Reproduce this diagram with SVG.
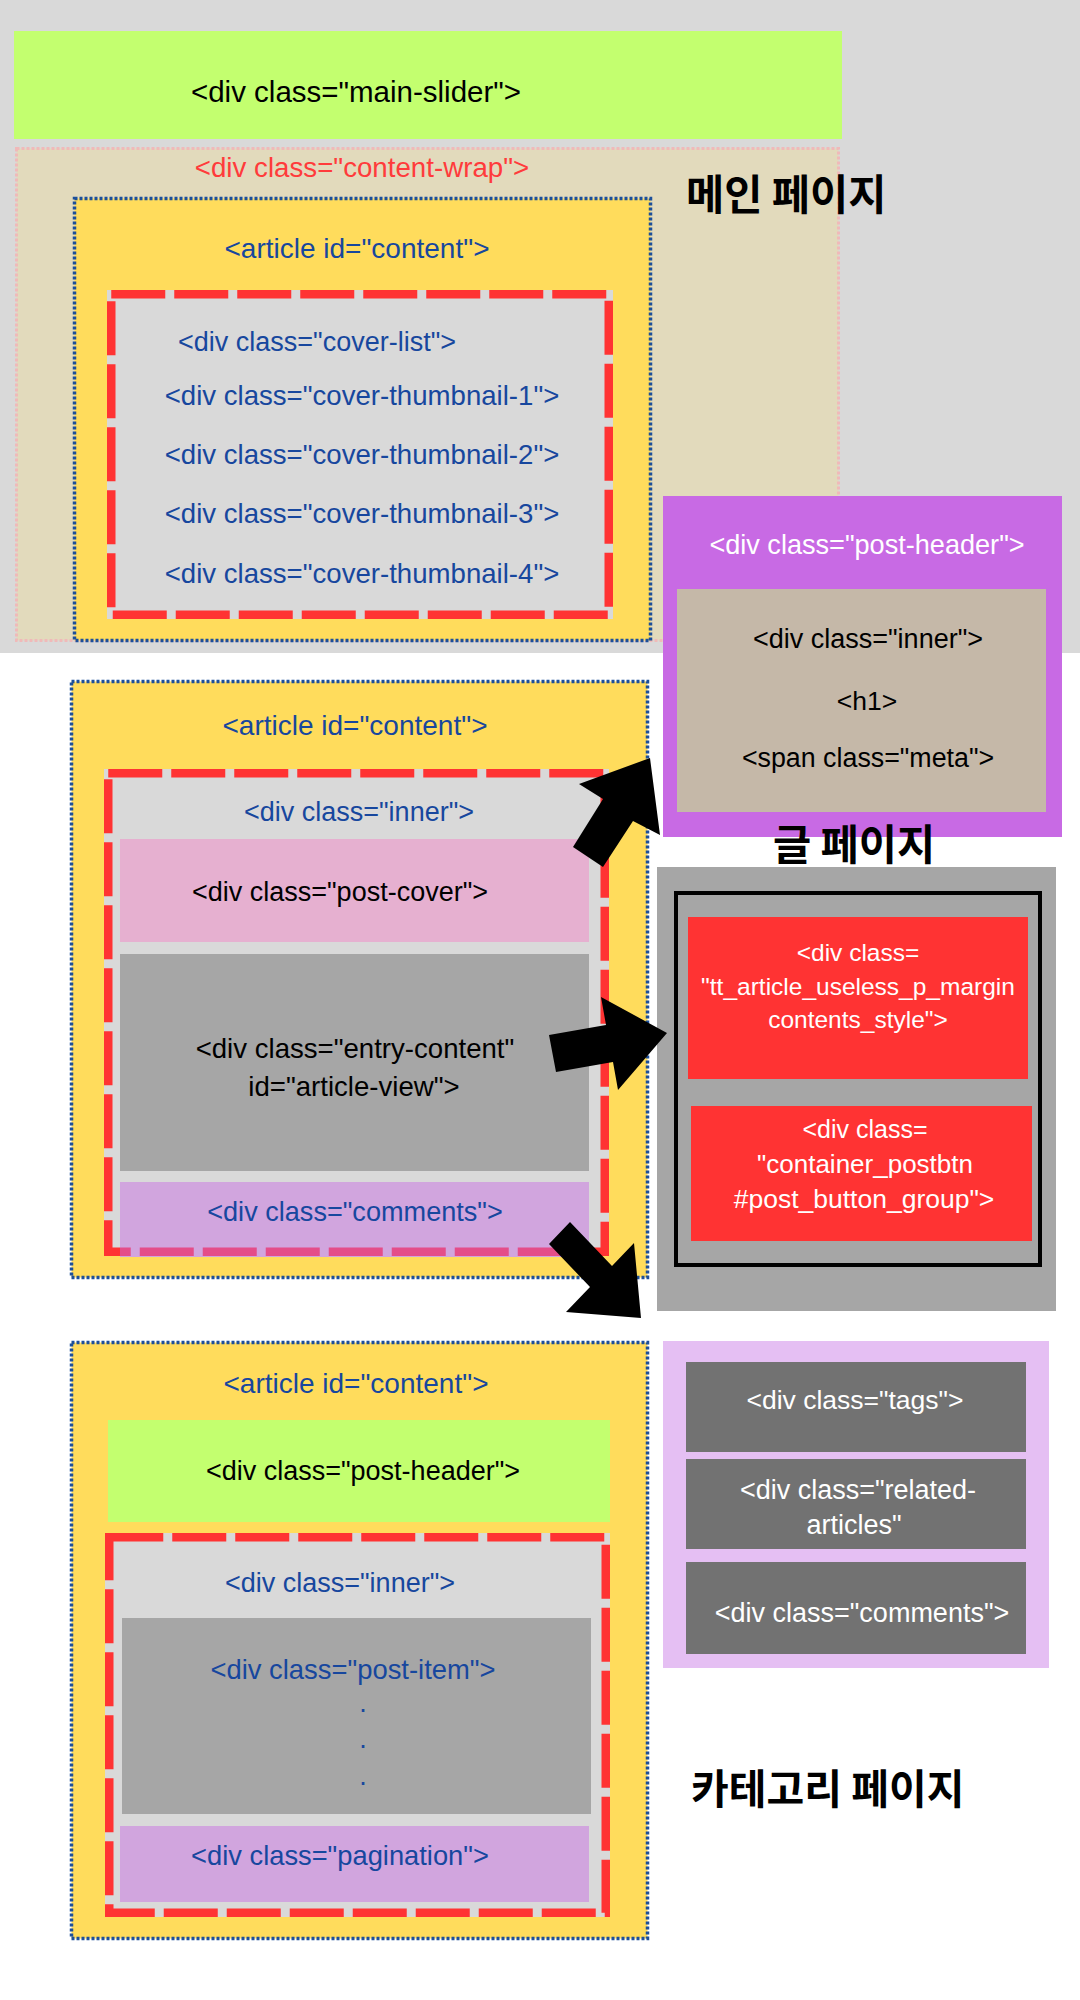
<svg xmlns="http://www.w3.org/2000/svg" width="1080" height="2000" viewBox="0 0 1080 2000">
<style>
text{font-family:"Liberation Sans",Arial,"Noto Sans CJK KR",sans-serif;text-anchor:middle}
.b{fill:#17479e}
.k{fill:#000}
.w{fill:#fff}
.r{fill:#ff3b3b}
.h{font-family:"Noto Sans CJK KR","Noto Sans CJK SC",sans-serif;font-weight:bold;fill:#000;text-anchor:start}
.art{fill:#ffdc5c;stroke:#1c4f9a;stroke-width:3.5;stroke-dasharray:3 2}
.rd{fill:none;stroke:#ff3333;stroke-width:8.5;stroke-dasharray:54 9}
.lg{fill:#d9d9d9}
</style>
<defs>
<clipPath id="cc"><rect x="120" y="1182" width="469" height="75"/></clipPath>
</defs>
<rect width="1080" height="2000" fill="#fff"/>
<rect x="0" y="0" width="1080" height="653" fill="#d9d9d9"/>

<g id="main-slider">
<rect x="14" y="31" width="828" height="108" fill="#c3ff6f"/>
<text x="356" y="102" class="k" font-size="29.5">&lt;div class="main-slider"&gt;</text>
</g>

<g id="content-wrap">
<rect x="16.5" y="148.5" width="822" height="492" fill="#e2dabc" stroke="#f0b9b9" stroke-width="3" stroke-dasharray="3 2"/>
<text x="362" y="177" class="r" font-size="27.7">&lt;div class="content-wrap"&gt;</text>
</g>

<g id="main-article">
<rect x="74.5" y="198.5" width="576" height="442" class="art"/>
<text x="357" y="258" class="b" font-size="28">&lt;article id="content"&gt;</text>
</g>

<g id="cover-list">
<rect x="107" y="290" width="506" height="329" class="lg"/>
<rect x="111.25" y="294.25" width="497.5" height="320.5" class="rd"/>
<text x="317" y="351" class="b" font-size="27">&lt;div class="cover-list"&gt;</text>
<text x="362" y="405" class="b" font-size="27.6">&lt;div class="cover-thumbnail-1"&gt;</text>
<text x="362" y="464" class="b" font-size="27.6">&lt;div class="cover-thumbnail-2"&gt;</text>
<text x="362" y="523" class="b" font-size="27.6">&lt;div class="cover-thumbnail-3"&gt;</text>
<text x="362" y="583" class="b" font-size="27.6">&lt;div class="cover-thumbnail-4"&gt;</text>
</g>

<g id="label-main">
<text x="686" y="210" class="h" font-size="41.5">메인 페이지</text>
</g>

<g id="post-article">
<rect x="71.5" y="681.5" width="576" height="596" class="art"/>
<text x="355" y="735" class="b" font-size="28">&lt;article id="content"&gt;</text>
</g>

<g id="post-inner">
<rect x="104" y="769" width="505" height="487" class="lg"/>
<rect x="108.25" y="773.25" width="496.5" height="478.5" class="rd"/>
<text x="359" y="821" class="b" font-size="27">&lt;div class="inner"&gt;</text>
</g>

<g id="post-cover">
<rect x="120" y="839" width="469" height="103" fill="#e6b0d0"/>
<text x="340" y="901" class="k" font-size="27">&lt;div class="post-cover"&gt;</text>
</g>

<g id="entry-content">
<rect x="120" y="954" width="469" height="217" fill="#a6a6a6"/>
<text x="355" y="1058" class="k" font-size="27.6">&lt;div class="entry-content"</text>
<text x="354" y="1096" class="k" font-size="27.6">id="article-view"&gt;</text>
</g>

<g id="post-comments">
<rect x="120" y="1182" width="469" height="75" fill="#d1a5de"/>
<rect x="108.25" y="773.25" width="496.5" height="478.5" fill="none" stroke="#e44d89" stroke-width="8.5" stroke-dasharray="54 9" clip-path="url(#cc)"/>
<text x="355" y="1221" class="b" font-size="27.1">&lt;div class="comments"&gt;</text>
</g>

<g id="post-header">
<rect x="663" y="496" width="399" height="341" fill="#c86ae4"/>
<text x="867" y="554" class="w" font-size="27.1">&lt;div class="post-header"&gt;</text>
</g>

<g id="header-inner">
<rect x="677" y="589" width="369" height="223" fill="#c5b8a8"/>
<text x="868" y="648" class="k" font-size="27">&lt;div class="inner"&gt;</text>
<text x="867" y="710" class="k" font-size="26.5">&lt;h1&gt;</text>
<text x="868" y="767" class="k" font-size="26.8">&lt;span class="meta"&gt;</text>
</g>

<g id="label-post">
<text x="773" y="860" class="h" font-size="41.5">글 페이지</text>
</g>

<g id="article-body">
<rect x="657" y="867" width="399" height="444" fill="#a6a6a6"/>
<rect x="676" y="893" width="364" height="372" fill="none" stroke="#000" stroke-width="4"/>
</g>

<g id="useless-margin">
<rect x="688" y="917" width="340" height="162" fill="#ff3333"/>
<text x="858" y="961" class="w" font-size="24.5">&lt;div class=</text>
<text x="858" y="995" class="w" font-size="24.5">"tt_article_useless_p_margin</text>
<text x="858" y="1028" class="w" font-size="24.5">contents_style"&gt;</text>
</g>

<g id="postbtn">
<rect x="691" y="1106" width="341" height="135" fill="#ff3333"/>
<text x="865" y="1138" class="w" font-size="25">&lt;div class=</text>
<text x="865" y="1173" class="w" font-size="26">"container_postbtn</text>
<text x="864" y="1208" class="w" font-size="26.5">#post_button_group"&gt;</text>
</g>

<g id="category-article">
<rect x="71.5" y="1342.5" width="576" height="596" class="art"/>
<text x="356" y="1393" class="b" font-size="28">&lt;article id="content"&gt;</text>
</g>

<g id="category-post-header">
<rect x="108" y="1420" width="502" height="102" fill="#c3ff6f"/>
<text x="363" y="1480" class="k" font-size="27">&lt;div class="post-header"&gt;</text>
</g>

<g id="category-inner">
<rect x="105" y="1533" width="505" height="384" class="lg"/>
<rect x="109.25" y="1537.25" width="496.5" height="375.5" class="rd"/>
<text x="340" y="1592" class="b" font-size="27">&lt;div class="inner"&gt;</text>
</g>

<g id="post-item">
<rect x="122" y="1618" width="469" height="196" fill="#a6a6a6"/>
<text x="353" y="1679" class="b" font-size="27.4">&lt;div class="post-item"&gt;</text>
<text x="363" y="1712" class="b" font-size="27">.</text>
<text x="363" y="1748" class="b" font-size="27">.</text>
<text x="363" y="1785" class="b" font-size="27">.</text>
</g>

<g id="pagination">
<rect x="120" y="1826" width="469" height="76" fill="#d1a5de"/>
<text x="340" y="1865" class="b" font-size="27.3">&lt;div class="pagination"&gt;</text>
</g>

<g id="post-footer">
<rect x="663" y="1341" width="386" height="327" fill="#e5bff3"/>
</g>

<g id="tags">
<rect x="686" y="1362" width="340" height="90" fill="#727272"/>
<text x="855" y="1409" class="w" font-size="26.5">&lt;div class="tags"&gt;</text>
</g>

<g id="related-articles">
<rect x="686" y="1459" width="340" height="90" fill="#727272"/>
<text x="858" y="1499" class="w" font-size="27">&lt;div class="related-</text>
<text x="854" y="1534" class="w" font-size="27">articles"</text>
</g>

<g id="footer-comments">
<rect x="686" y="1562" width="340" height="92" fill="#727272"/>
<text x="862" y="1622" class="w" font-size="27">&lt;div class="comments"&gt;</text>
</g>

<g id="label-category">
<text x="691" y="1804" class="h" font-size="41">카테고리 페이지</text>
</g>

<g id="connectors" fill="#000">
<polygon points="573,847 603,799 579,784 650,758 660,835 633,821 603,867"/>
<polygon points="549,1035 606,1025 601,997 667,1033 618,1090 613,1062 556,1072"/>
<polygon points="570,1222 612,1266 634,1243 641,1318 566,1312 590,1287 549,1244"/>
</g>
</svg>
